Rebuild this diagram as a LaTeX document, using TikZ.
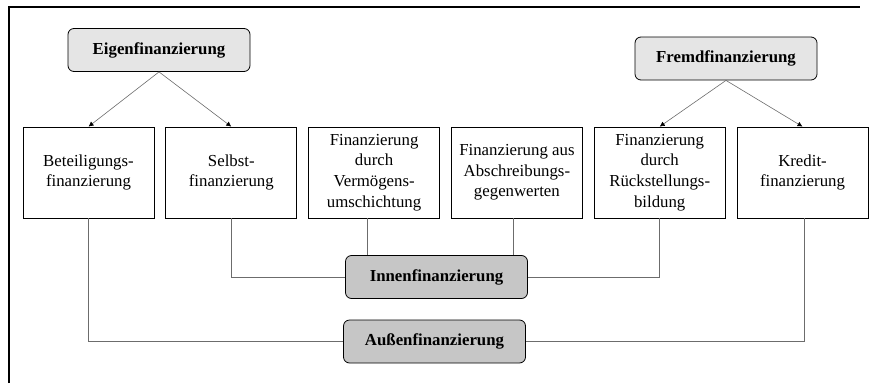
\documentclass[tikz,border=0pt]{standalone}
\usepackage{fontspec}
\setmainfont{Liberation Serif}
\newfontfamily\boxfont{Liberation Serif}
\usetikzlibrary{positioning, arrows.meta}

\begin{document}
\begin{tikzpicture}[x=1pt, y=-1pt, node distance=11pt, >={Latex[length=5pt, width=5pt, color=black]},
		form/.style={draw, rectangle, minimum height=91pt, minimum width=131pt, align=center, line width=0.8pt, font=\boxfont\fontsize{16.8}{20.7}\selectfont},
		head/.style={draw, rectangle, rounded corners=6pt, fill=gray!20, minimum height=43pt, minimum width=182pt, line width=0.8pt, font=\boxfont\fontsize{16.8}{20}\selectfont\bfseries},
		kind/.style={head, fill=gray!45},
		link/.style={draw=gray!85!black, line width=0.6pt}]
		\useasboundingbox (0,0) rectangle (869,383);
		\draw [line width=1.6pt] (9,383) -- (9,7) -- (860,7);
		
		% Finanzierungsformen
		\node [form] (b1) at (88.5,172.5) {Beteiligungs-\\finanzierung};
		\node [form, right=11pt of b1] (b2) {Selbst-\\finanzierung};
		\node [form, right=11pt of b2] (b3) {Finanzierung\\durch\\Vermögens-\\umschichtung};
		\node [form, right=11pt of b3] (b4) {Finanzierung aus\\Abschreibungs-\\gegenwerten};
		\node [form, right=11pt of b4] (b5) {Finanzierung\\durch\\Rückstellungs-\\bildung};
		\node [form, right=11pt of b5] (b6) {Kredit-\\finanzierung};
		
		% Oberbegriffe
		\node [head] (eigen) at (159,50) {Eigenfinanzierung};
		\node [head] (fremd) at (726,58.5) {Fremdfinanzierung};
		\node [kind] (innen) at (436.5,277) {Innenfinanzierung};
		\node [kind] (aussen) at (434.5,341.5) {Außenfinanzierung};
		
		\draw [link, ->] (eigen.south) -- (b1.north);
		\draw [link, ->] (eigen.south) -- (b2.north);
		\draw [link, ->] (fremd.south) -- (b5.north);
		\draw [link, ->] (fremd.south) -- (b6.north);
		
		\draw [link] (b2.south) |- (innen.west);
		\draw [link] (b5.south) |- (innen.east);
		\draw [link] ([xshift=-6.5pt]b3.south) -- ([xshift=-6.5pt]b3.south |- innen.north);
		\draw [link] ([xshift=-4pt]b4.south) -- ([xshift=-4pt]b4.south |- innen.north);
		\draw [link] (b1.south) |- (aussen.west);
		\draw [link] ([xshift=2pt]b6.south) |- (aussen.east);
	\end{tikzpicture}
\end{document}
